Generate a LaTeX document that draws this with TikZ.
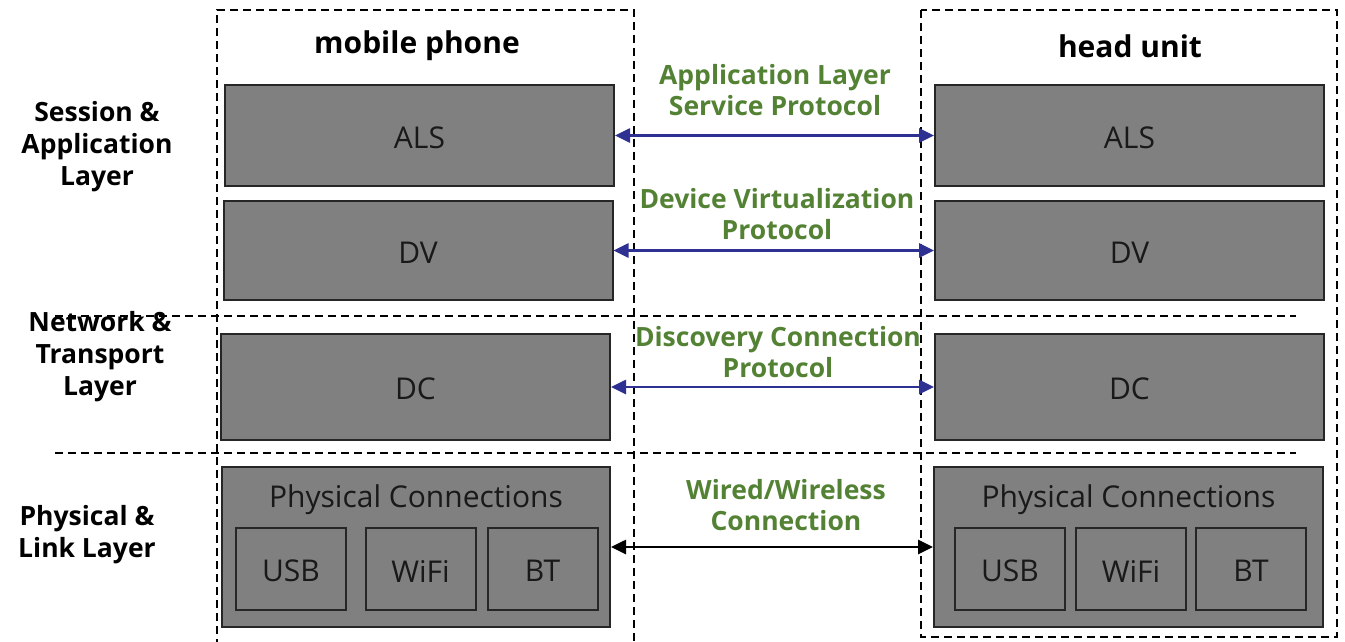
\documentclass[tikz,border=0pt]{standalone}
\usepackage{fontspec}
\setmainfont{Open Sans}
\usetikzlibrary{arrows.meta}
\definecolor{boxgray}{HTML}{808080}
\definecolor{boxline}{HTML}{262626}
\definecolor{protgreen}{HTML}{548235}
\definecolor{arrblue}{HTML}{2E3192}
\tikzset{
  blk/.style={draw=boxline, line width=2pt, fill=boxgray, inner sep=0pt},
  blktext/.style={font=\fontsize{30}{34}\selectfont, text=black!90},
  dashbox/.style={draw=black, line width=1.6pt, dash pattern=on 8pt off 5pt},
  prot/.style={font=\bfseries\fontsize{26.5}{31}\selectfont, text=protgreen, align=center},
  layer/.style={font=\bfseries\fontsize{26.5}{32}\selectfont, align=center},
  title/.style={font=\bfseries\fontsize{30}{32}\selectfont},
  barr/.style={draw=arrblue, line width=2.6pt, {Triangle[length=15pt,width=14pt]}-{Triangle[length=15pt,width=14pt]}},
  karr/.style={draw=black, line width=2.6pt, {Triangle[length=15pt,width=14pt]}-{Triangle[length=15pt,width=14pt]}}
}
\begin{document}
\begin{tikzpicture}[x=1pt,y=-1pt]
\useasboundingbox (0,0) rectangle (1345,642);
% container dashed boxes
\draw[dashbox] (217,660) -- (217,10) -- (634,10) -- (634,660);
\draw[dashbox] (921,10) rectangle (1337,637);
% layer separators
\draw[dashbox] (55,316) -- (1296,316);
\draw[dashbox] (55,453) -- (1296,453);
% titles
\node[title] (tl) at (417,46) {mobile phone};
\node[title] (tr) at (1130,46) {head unit};
% left blocks
\node[blk, minimum width=389pt, minimum height=100pt] (alsL) at (419.5,135.5) {};
\node[blk, minimum width=389pt, minimum height=99pt] (dvL) at (418,250.5) {};
\node[blk, minimum width=389pt, minimum height=106pt] (dcL) at (415.5,387) {};
\node[blk, minimum width=388pt, minimum height=160pt] (phL) at (416,547) {};
\node[blktext] (alsLt) at (419.5,137.5) {ALS};
\node[blktext] (dvLt) at (418,252.5) {DV};
\node[blktext] (dcLt) at (415.5,389) {DC};
\node[blktext] (phLt) at (416,500) {Physical Connections};
\node[blk, minimum width=110pt, minimum height=82pt] (usbL) at (291,569) {};
\node[blk, minimum width=110pt, minimum height=82pt] (wifiL) at (420.5,569) {};
\node[blk, minimum width=110pt, minimum height=82pt] (btL) at (542.5,569) {};
\node[blktext] (usbLt) at (291,571) {USB};
\node[blktext] (wifiLt) at (420.5,571) {WiFi};
\node[blktext] (btLt) at (542.5,571) {BT};
% right blocks
\node[blk, minimum width=389pt, minimum height=100pt] (alsR) at (1129.5,135.5) {};
\node[blk, minimum width=389pt, minimum height=99pt] (dvR) at (1129.5,250.5) {};
\node[blk, minimum width=389pt, minimum height=106pt] (dcR) at (1129.5,387) {};
\node[blk, minimum width=389pt, minimum height=160pt] (phR) at (1128.5,547) {};
\node[blktext] (alsRt) at (1129.5,137.5) {ALS};
\node[blktext] (dvRt) at (1129.5,252.5) {DV};
\node[blktext] (dcRt) at (1129.5,389) {DC};
\node[blktext] (phRt) at (1128.5,500) {Physical Connections};
\node[blk, minimum width=110pt, minimum height=82pt] (usbR) at (1010,569) {};
\node[blk, minimum width=110pt, minimum height=82pt] (wifiR) at (1131,569) {};
\node[blk, minimum width=110pt, minimum height=82pt] (btR) at (1251,569) {};
\node[blktext] (usbRt) at (1010,571) {USB};
\node[blktext] (wifiRt) at (1131,571) {WiFi};
\node[blktext] (btRt) at (1251,571) {BT};
% arrows
\draw[barr] (alsL.east) -- (alsR.west);
\draw[barr] (dvL.east) -- (dvR.west);
\draw[barr] (dcL.east) -- (dcR.west);
\draw[karr] (phL.east) -- (phR.west);
% protocol labels
\node[prot] (p1) at (775,90) {Application Layer\\Service Protocol};
\node[prot] (p2) at (777,214) {Device Virtualization\\Protocol};
\node[prot] (p3) at (778,352) {Discovery Connection\\Protocol};
\node[prot] (p4) at (786,505) {Wired/Wireless\\Connection};
% layer labels
\node[layer] (l1) at (97,147) {Session \&\\Application\\Layer};
\node[layer] (l2) at (100,357) {Network \&\\Transport\\Layer};
\node[layer] (l3) at (87,535) {Physical \&\\Link Layer};
\end{tikzpicture}
\end{document}
